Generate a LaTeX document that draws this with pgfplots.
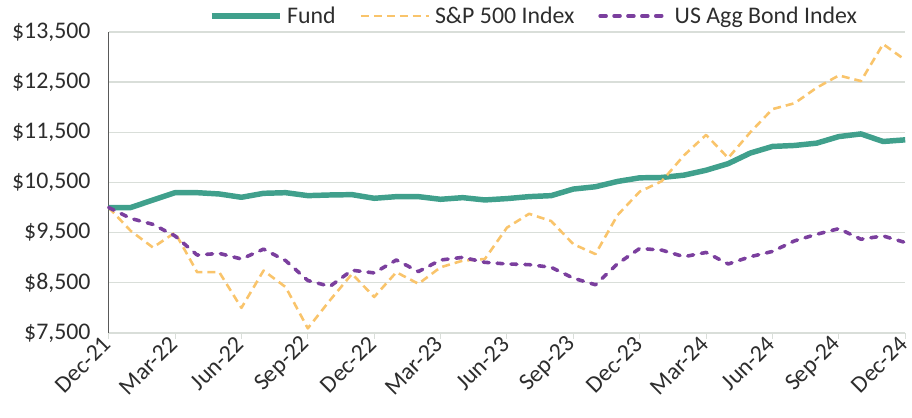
\documentclass[border=0pt]{standalone}
\usepackage{pgfplots}
\pgfplotsset{compat=1.18}
\usepackage{pgfplotstable}
\usepackage{fontspec}
\setmainfont{Carlito}
\definecolor{fundc}{RGB}{64,160,140}
\definecolor{spc}{RGB}{249,196,107}
\definecolor{bondc}{RGB}{123,63,158}
\definecolor{gridc}{RGB}{217,222,217}
\definecolor{txtc}{RGB}{45,45,45}
\pgfplotstableread{
m fund sp bond
0 10000 10000 10000
1 10000 9533 9783
2 10150 9204 9664
3 10296 9500 9434
4 10296 8711 9053
5 10270 8711 9086
6 10204 8000 8974
7 10283 8743 9171
8 10296 8414 8941
9 10237 7592 8546
10 10250 8151 8428
11 10257 8678 8750
12 10184 8217 8697
13 10217 8711 8954
14 10217 8480 8724
15 10164 8809 8954
16 10197 8941 9007
17 10151 8974 8908
18 10178 9599 8875
19 10217 9875 8862
20 10237 9730 8809
21 10368 9270 8592
22 10414 9072 8461
23 10520 9850 8880
24 10592 10316 9184
25 10599 10526 9151
26 10645 11039 9020
27 10743 11447 9105
28 10875 10987 8875
29 11086 11500 9020
30 11217 11961 9125
31 11237 12079 9336
32 11283 12388 9467
33 11414 12632 9579
34 11467 12520 9368
35 11316 13257 9434
36 11349 12941 9303
}\datatable
\begin{document}
\begin{tikzpicture}
\begin{axis}[
  scale only axis,
  width=799bp, height=302bp,
  xmin=0, xmax=36, ymin=7500, ymax=13500,
  scaled y ticks=false,
  xtick={0,3,...,36},
  xticklabels={Dec-21,Mar-22,Jun-22,Sep-22,Dec-22,Mar-23,Jun-23,Sep-23,Dec-23,Mar-24,Jun-24,Sep-24,Dec-24},
  xticklabel style={rotate=45, anchor=east, font=\fontsize{24}{26}\selectfont, text=txtc, inner sep=2pt},
  ytick={7500,8500,...,13500},
  yticklabels={\mbox{\$7,500},\mbox{\$8,500},\mbox{\$9,500},\mbox{\$10,500},\mbox{\$11,500},\mbox{\$12,500},\mbox{\$13,500}},
  yticklabel style={font=\fontsize{24}{26}\selectfont, text=txtc, inner sep=2pt, xshift=-16bp},
  ymajorgrids,
  grid style={gridc, line width=1.3pt},
  axis x line*=bottom,
  axis y line*=left,
  x axis line style={gridc, line width=1.3pt},
  y axis line style={black!65, line width=1.1pt},
  x tick style={gridc, line width=1pt},
  major tick length=6bp,
  xtick align=outside,
  ytick style={draw=none},
  clip=false,
  legend columns=3,
  legend style={at={(0.534,1.053)}, anchor=center, draw=none, fill=none,
    font=\fontsize{24}{26}\selectfont, text=txtc, inner sep=0pt,
    /tikz/every odd column/.append style={column sep=3bp},
    /tikz/every even column/.append style={column sep=22bp}},
  legend cell align=left,
  legend image code/.code={\draw[#1] (0bp,0bp) -- (68bp,0bp);},
]
\addplot[fundc, line width=5.5pt, line join=round] table[x=m, y=fund] {\datatable};
\addlegendentry{Fund}
\addplot[spc, line width=2.6pt, dash pattern=on 8pt off 5pt, line join=round] table[x=m, y=sp] {\datatable};
\addlegendentry{S\&P 500 Index}
\addplot[bondc, line width=3.6pt, line cap=round, dash pattern=on 6pt off 8pt, line join=round] table[x=m, y=bond] {\datatable};
\addlegendentry{US Agg Bond Index}
\path (rel axis cs:0,0) ++(-109bp,-85bp) (rel axis cs:1,1) ++(4bp,32bp);
\end{axis}
\end{tikzpicture}
\end{document}
